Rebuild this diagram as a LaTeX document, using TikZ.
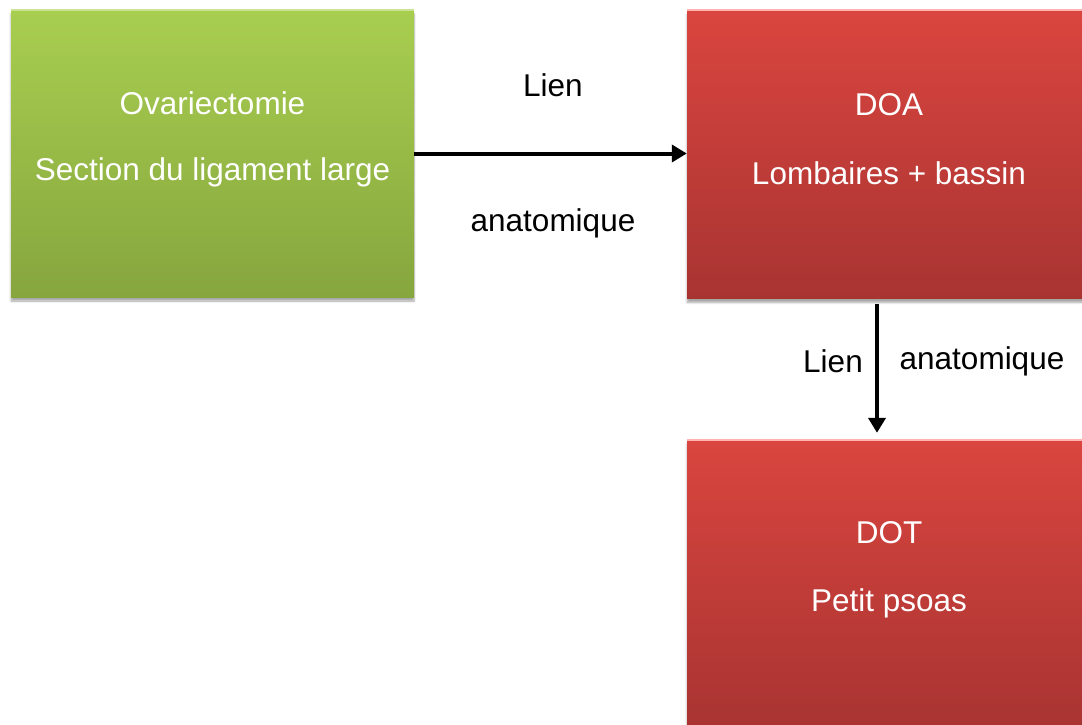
\documentclass[tikz,border=0pt]{standalone}
\usepackage{fontspec}
\setmainfont{Liberation Sans}
\usetikzlibrary{arrows.meta,shadows.blur}
\definecolor{gtop}{HTML}{A8CE50}
\definecolor{gbot}{HTML}{86A63E}
\definecolor{rtop}{HTML}{DA453F}
\definecolor{rbot}{HTML}{A83432}
\tikzset{
  box/.style={rectangle, inner sep=0pt, minimum width=404pt, minimum height=288pt,
    blur shadow={shadow xshift=0pt, shadow yshift=-4pt, shadow blur steps=6, shadow opacity=35}},
  greenbox/.style={box, top color=gtop, bottom color=gbot},
  redbox/.style={box, top color=rtop, bottom color=rbot},
  boxtxt/.style={inner sep=0pt, text=white, font=\fontsize{31.5}{36}\selectfont},
  lbl/.style={inner sep=0pt, font=\fontsize{31.5}{36}\selectfont, text=black},
  link/.style={line width=4pt, -{Triangle[length=15pt,width=17pt]}}
}
\begin{document}
\begin{tikzpicture}[x=1pt,y=-1pt]
\useasboundingbox (0,0) rectangle (1082,724);
\clip (0,0) rectangle (1082,724);
\node[greenbox, minimum width=403pt, minimum height=287pt] (ov) at (212.5,153.5) {};
\node[redbox] (doa) at (889,154.5) {};
\node[redbox] (dot) at (889,584) {};
\draw[line width=2pt, white!70!red] (doa.north west) -- (doa.north east);
\draw[line width=2pt, white!70!red] (dot.north west) -- (dot.north east);
\draw[line width=2pt, gtop!60!white] (ov.north west) -- (ov.north east);
\node[boxtxt] (ov1) at ([yshift=50pt]ov.center) {Ovariectomie};
\node[boxtxt] (ov2) at ([yshift=-18.5pt]ov.center) {Section du ligament large};
\node[boxtxt] (doa1) at ([yshift=49.5pt]doa.center) {DOA};
\node[boxtxt] (doa2) at ([yshift=-18.5pt]doa.center) {Lombaires + bassin};
\node[boxtxt] (dot1) at ([yshift=51pt]dot.center) {DOT};
\node[boxtxt] (dot2) at ([yshift=-19pt]dot.center) {Petit psoas};
\draw[link] (ov.east) -- (ov.east -| doa.west);
\draw[link] ([xshift=-12pt,yshift=-5pt]doa.south) -- ([xshift=-12pt,yshift=7pt]dot.north);
\node[lbl] (l1) at (553,85) {Lien};
\node[lbl] (a1) at (553,223) {anatomique};
\node[lbl] (l2) at (833,361) {Lien};
\node[lbl] (a2) at (982,361) {anatomique};
\end{tikzpicture}
\end{document}
